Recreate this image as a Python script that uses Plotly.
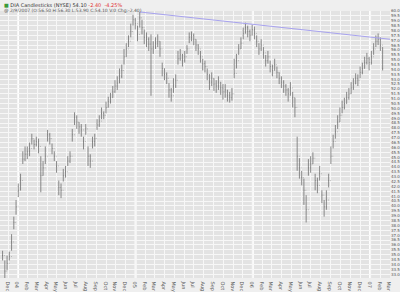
import plotly.graph_objects as go
import pandas as pd

# Weekly bars (start week 2003-11-14)
first_week = "2003-11-14"
highs = [35.4,34.4,34.9,35.3,37.1,38.9,40.6,42.3,43.3,45.6,46.1,46.1,46.5,47.4,46.8,47.1,46.9,45.1,44.6,46.1,
         47.8,47.5,46.4,45.6,44.6,42.6,42.3,43.8,44.1,45.1,45.6,47.9,49.6,49.3,48.6,48.4,47.1,48.4,46.1,45.3,
         47.1,47.4,48.9,49.3,50.1,49.7,50.7,51.2,51.6,52.3,52.9,53.3,54.1,54.5,56.1,56.7,57.5,58.7,59.6,59.3,
         58.5,59.9,59.1,58.1,57.8,57.3,57.6,56.9,57.3,57.6,56.9,54.7,54.1,53.7,52.6,52.1,53.1,53.5,55.9,56.1,
         55.6,55.9,56.5,57.8,57.9,57.7,57.1,56.6,55.9,55.1,54.9,54.1,53.5,53.7,53.1,52.9,53.3,52.7,52.5,52.5,
         51.9,51.7,52.1,55.1,55.6,56.6,57.3,58.3,58.8,58.5,58.1,58.6,58.4,57.5,56.7,57.1,56.3,55.5,55.9,54.9,
         54.5,55.1,54.3,53.7,53.3,52.9,52.5,52.1,52.7,51.7,51.1,47.1,44.9,43.6,42.8,41.1,44.8,45.1,45.5,43.3,
         42.9,44.1,41.6,40.6,41.6,43.3,46.1,47.3,48.3,49.3,50.1,50.8,51.1,51.7,52.1,52.7,53.1,53.6,53.5,54.3,
         54.7,55.3,55.7,55.3,55.9,56.7,57.5,57.7,57.3,56.3]
lows = [34.4,32.4,33.4,34.4,35.4,37.6,39.1,40.9,41.6,44.3,44.6,44.8,45.1,46.3,45.8,46.1,45.4,41.4,43.1,44.3,
        46.6,46.3,45.3,44.6,43.4,41.1,40.8,42.5,42.9,44.1,44.4,46.6,48.3,47.9,47.4,47.1,45.8,47.3,44.1,43.9,
        45.9,46.1,47.8,48.1,48.9,48.9,49.5,50.1,50.5,51.1,51.6,51.9,52.6,53.1,54.5,55.3,56.3,57.3,58.5,58.1,
        56.9,58.3,57.6,56.6,56.3,55.9,51.3,55.6,56.1,56.3,55.3,53.3,52.9,52.5,51.1,50.7,51.6,52.1,54.5,54.9,
        54.3,54.7,55.6,56.7,56.9,56.5,55.9,55.5,54.7,53.9,53.7,52.9,51.9,52.3,51.8,51.6,51.9,51.4,50.9,51.1,
        50.7,50.6,50.8,53.1,54.1,55.5,56.1,57.1,57.7,57.3,56.9,57.5,57.1,56.3,55.5,55.9,55.1,54.3,54.6,53.7,
        53.3,53.9,53.1,52.5,52.1,51.6,51.3,50.7,51.3,50.1,49.1,43.6,42.8,42.1,40.1,38.3,43.1,43.4,44.3,41.6,
        41.3,42.6,40.3,38.9,39.6,41.9,44.3,45.9,46.9,47.9,48.6,49.5,49.9,50.5,50.9,51.5,51.9,52.5,52.3,53.1,
        53.5,54.1,54.5,53.9,54.5,55.5,56.3,56.5,55.9,53.9]
closes = [34.9,33.3,34.1,34.8,36.3,38.3,39.9,41.6,42.6,44.8,45.3,45.6,45.9,46.9,46.3,46.6,46.1,43.1,43.9,45.1,
          47.3,46.9,45.9,45.1,44.1,41.9,41.6,43.1,43.5,44.6,45.1,47.3,49.1,48.6,48.1,47.8,46.6,47.9,45.1,44.6,
          46.6,46.9,48.3,48.7,49.5,49.3,50.1,50.7,51.1,51.7,52.3,52.6,53.3,53.9,55.3,56.1,56.9,57.9,59.1,58.7,
          57.6,59.3,58.3,57.3,57.1,56.6,56.1,56.3,56.7,56.9,56.1,54.1,53.5,53.1,51.9,51.3,52.3,52.9,55.1,55.5,
          54.9,55.3,56.1,57.3,57.5,57.1,56.5,56.1,55.3,54.6,54.3,53.5,52.7,53.1,52.5,52.3,52.7,52.1,51.7,51.9,
          51.3,51.1,51.5,53.6,54.9,56.1,56.7,57.7,58.3,57.9,57.5,58.1,57.7,56.9,56.1,56.5,55.7,54.9,55.3,54.3,
          53.9,54.5,53.7,53.1,52.7,52.3,51.9,51.5,52.1,51.1,50.1,45.1,43.9,42.9,41.6,39.6,43.9,44.3,44.9,42.6,
          42.1,43.3,41.1,39.9,40.6,42.6,45.1,46.6,47.6,48.6,49.3,50.1,50.5,51.1,51.5,52.1,52.5,53.1,52.9,53.7,
          54.1,54.7,55.1,54.7,55.3,56.1,56.9,57.1,56.5,54.1]
opens = [closes[0]] + closes[:-1]
dates = pd.date_range(first_week, periods=len(closes), freq="7D")

# Trendline drawn on the chart
trend_dates = ["2005-01-14", "2007-03-04"]
trend_values = [59.9, 57.1]

# x-axis month ticks
tick_dates = ["2003-12-01","2004-01-01","2004-02-01","2004-03-01","2004-04-01","2004-05-01","2004-06-01",
              "2004-07-01","2004-08-01","2004-09-01","2004-10-01","2004-11-01","2004-12-01","2005-01-01",
              "2005-02-01","2005-03-01","2005-04-01","2005-05-01","2005-06-01","2005-07-01","2005-08-01",
              "2005-09-01","2005-10-01","2005-11-01","2005-12-01","2006-01-01","2006-02-01","2006-03-01",
              "2006-04-01","2006-05-01","2006-06-01","2006-07-01","2006-08-01","2006-09-01","2006-10-01",
              "2006-11-01","2006-12-01","2007-01-01","2007-02-01","2007-03-01"]
tick_text = ["Dec","04","Feb","Mar","Apr","May","Jun","Jul","Aug","Sep","Oct","Nov","Dec","05",
             "Feb","Mar","Apr","May","Jun","Jul","Aug","Sep","Oct","Nov","Dec","06","Feb","Mar",
             "Apr","May","Jun","Jul","Aug","Sep","Oct","Nov","Dec","07","Feb","Mar"]
year_lines = ["2004-01-01", "2005-01-01", "2006-01-01", "2007-01-01"]

fig = go.Figure()
fig.add_trace(go.Ohlc(x=dates, open=opens, high=highs, low=lows, close=closes,
                      increasing=dict(line=dict(color="#6e6e6e", width=0.8)),
                      decreasing=dict(line=dict(color="#6e6e6e", width=0.8)),
                      tickwidth=0.2, showlegend=False, hoverinfo="skip"))
fig.add_trace(go.Scatter(x=trend_dates, y=trend_values, mode="lines",
                         line=dict(color="#a7a2ee", width=1), showlegend=False, hoverinfo="skip"))

for d in year_lines:
    fig.add_shape(type="line", xref="x", yref="paper", x0=d, x1=d, y0=0, y1=1,
                  line=dict(color="#ffffff", width=2), layer="below")

fig.update_layout(
    width=400, height=292,
    margin=dict(l=0, r=9, t=11, b=7),
    paper_bgcolor="#efefef", plot_bgcolor="#e3e3e3",
    font=dict(family="DejaVu Sans", size=5, color="#444444"),
    showlegend=False,
    annotations=[
        dict(xref="paper", yref="paper", x=0.005, y=1.04, xanchor="left", yanchor="top",
             text="<span style='color:#3a9a3a'>■</span> DIA Candlesticks (NYSE) 54.10 "
                  "<span style='color:#e03030'>-2.40  -4.25%</span>",
             showarrow=False, font=dict(size=5, color="#333333")),
        dict(xref="paper", yref="paper", x=0.005, y=1.017, xanchor="left", yanchor="top",
             text="@ 2/9/2007 (O:56.50 H:56.30 L:53.90 C:54.10 V:0 Chg:-2.40)",
             showarrow=False, font=dict(size=4.5, color="#555555")),
    ],
)
fig.update_xaxes(type="date", range=["2003-11-06", "2007-03-04"], rangeslider=dict(visible=False),
                 tickmode="array", tickvals=tick_dates, ticktext=tick_text,
                 showgrid=True, gridcolor="#f7f7f7", gridwidth=1, zeroline=False, showline=False,
                 ticks="", tickfont=dict(size=5, color="#555555"), ticklabelstandoff=0)
fig.update_yaxes(range=[32.6, 60.0], side="right", dtick=0.5, tick0=0, tickformat=".1f",
                 showgrid=True, gridcolor="#f7f7f7", gridwidth=1, zeroline=False, showline=False,
                 ticks="", tickfont=dict(size=4, color="#555555"))

fig.write_html("out.html")
